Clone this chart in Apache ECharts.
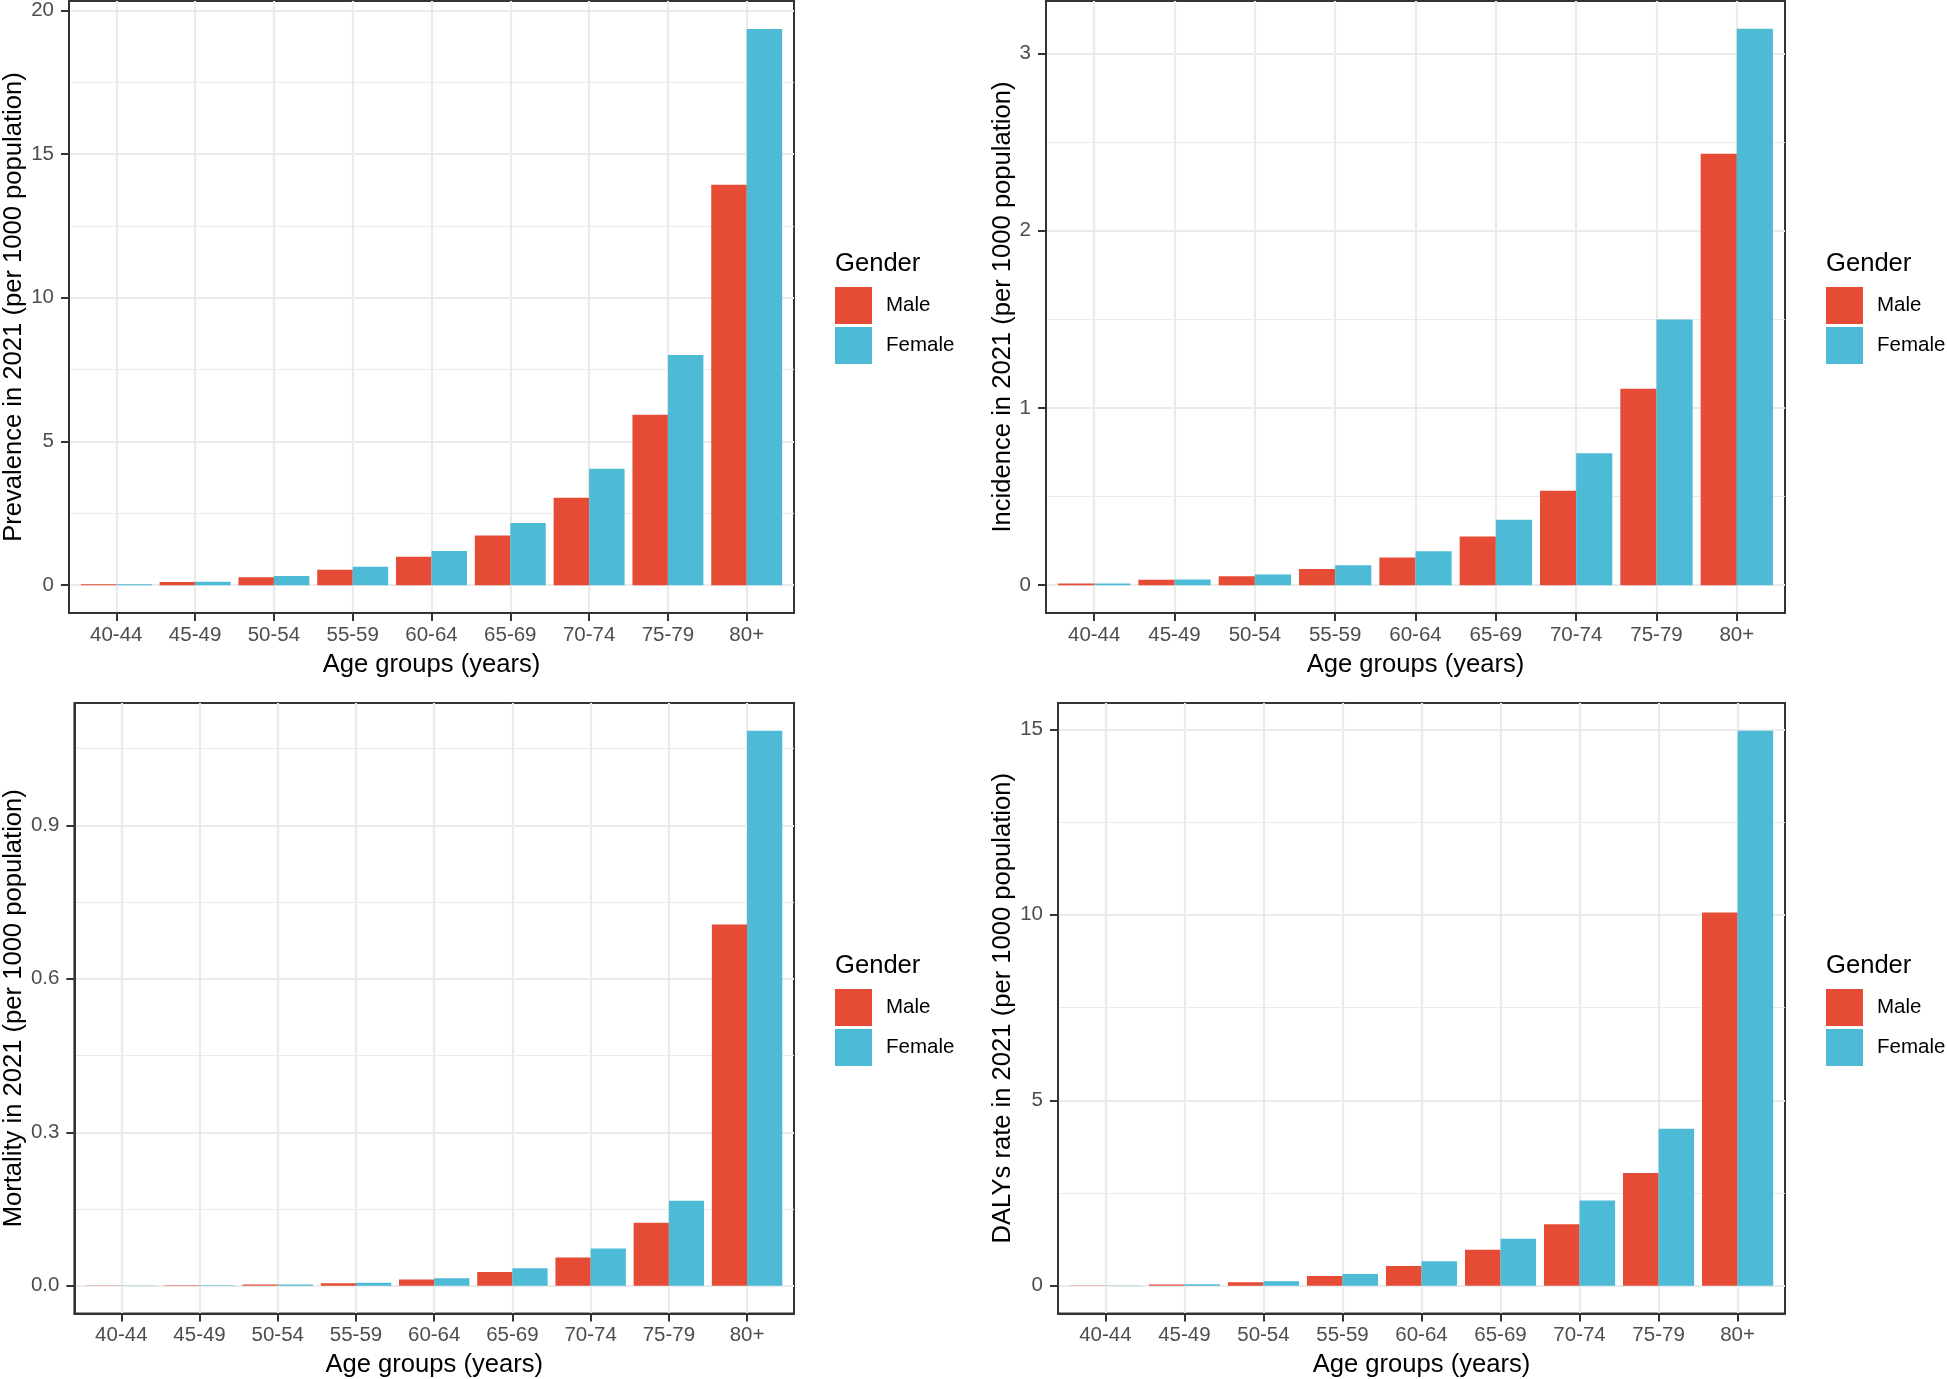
<!DOCTYPE html>
<html>
<head>
<meta charset="utf-8">
<title>Age groups by gender, 2021</title>
<script src="https://cdn.jsdelivr.net/npm/echarts@6/dist/echarts.min.js"></script>
<style>
html, body { margin: 0; padding: 0; background: #ffffff; }
#chart { width: 1947px; height: 1379px; }
</style>
</head>
<body>
<div id="chart"></div>
<script>
// categories
var ageGroups = ['40-44', '45-49', '50-54', '55-59', '60-64', '65-69', '70-74', '75-79', '80+'];
var genders = ['Male', 'Female'];

// values (per 1000 population)
var prevalenceMale   = [0.03, 0.11, 0.28, 0.54, 0.99, 1.73, 3.04, 5.93, 13.94];
var prevalenceFemale = [0.03, 0.12, 0.32, 0.64, 1.19, 2.16, 4.05, 8.01, 19.36];
var incidenceMale    = [0.01, 0.03, 0.05, 0.092, 0.156, 0.275, 0.533, 1.108, 2.435];
var incidenceFemale  = [0.01, 0.032, 0.06, 0.112, 0.191, 0.369, 0.744, 1.50, 3.14];
var mortalityMale    = [0.0004, 0.001, 0.0026, 0.005, 0.012, 0.027, 0.055, 0.123, 0.706];
var mortalityFemale  = [0.0003, 0.001, 0.0026, 0.006, 0.0145, 0.034, 0.073, 0.166, 1.085];
var dalysMale        = [0.01, 0.035, 0.094, 0.26, 0.53, 0.97, 1.66, 3.04, 10.06];
var dalysFemale      = [0.01, 0.04, 0.118, 0.32, 0.66, 1.27, 2.30, 4.23, 14.96];

// tick marks
var prevalenceTicks  = [0, 5, 10, 15, 20];
var prevalenceLabels = ['0', '5', '10', '15', '20'];
var prevalenceMinor  = [2.5, 7.5, 12.5, 17.5];
var incidenceTicks   = [0, 1, 2, 3];
var incidenceLabels  = ['0', '1', '2', '3'];
var incidenceMinor   = [0.5, 1.5, 2.5];
var mortalityTicks   = [0, 0.3, 0.6, 0.9];
var mortalityLabels  = ['0.0', '0.3', '0.6', '0.9'];
var mortalityMinor   = [0.15, 0.45, 0.75, 1.05];
var dalysTicks       = [0, 5, 10, 15];
var dalysLabels      = ['0', '5', '10', '15'];
var dalysMinor       = [2.5, 7.5, 12.5];

var FONT = '"Liberation Sans", Arial, Helvetica, sans-serif';
var COLORS = ['#E64B35', '#4DBBD5'];
var TITLE_SIZE = 25.6;   // 11pt titles
var TEXT_SIZE = 20.5;    // 8.8pt tick and key labels

/**
 * panel layout, in pixels
 */
var panels = [
    { title: 'Prevalence in 2021 (per 1000 population)', male: prevalenceMale, female: prevalenceFemale,
      ticks: prevalenceTicks, labels: prevalenceLabels, minor: prevalenceMinor,
      left: 66, top: 1, width: 728, height: 612, keyX: 835, keyTop: 287, yGap: 42 },
    { title: 'Incidence in 2021 (per 1000 population)', male: incidenceMale, female: incidenceFemale,
      ticks: incidenceTicks, labels: incidenceLabels, minor: incidenceMinor,
      left: 1046, top: 1, width: 739, height: 612, keyX: 1826, keyTop: 287, yGap: 30 },
    { title: 'Mortality in 2021 (per 1000 population)', male: mortalityMale, female: mortalityFemale,
      ticks: mortalityTicks, labels: mortalityLabels, minor: mortalityMinor,
      left: 71, top: 703, width: 723, height: 611, keyX: 835, keyTop: 989, yGap: 47 },
    { title: 'DALYs rate in 2021 (per 1000 population)', male: dalysMale, female: dalysFemale,
      ticks: dalysTicks, labels: dalysLabels, minor: dalysMinor,
      left: 1058, top: 703, width: 727, height: 611, keyX: 1826, keyTop: 989, yGap: 42 }
];

var toPairs = function(values){
    return values.map(function(v, i){ return [i, v]; });
};

var groupIndex = ageGroups.map(function(a, k){ return k; });
var frameLine = { show: true, onZero: false, lineStyle: { color: '#333333', width: 2 } };

/**
 * one ggplot-like panel: grid, axes, two dodged bar series, legend
 */
var addPanel = function(option, p, i){
    var top = Math.max.apply(null, p.male.concat(p.female));
    var yMin = -0.05 * top;     // ggplot expands 5% each side
    var yMax = 1.05 * top;

    option.grid.push({
        left: p.left, top: p.top, width: p.width, height: p.height,
        show: true, borderColor: '#333333', borderWidth: 2, backgroundColor: '#ffffff'
    });

    option.xAxis.push({
        type: 'value', gridIndex: i, min: -0.6, max: ageGroups.length - 0.4, position: 'bottom',
        name: 'Age groups (years)', nameLocation: 'middle', nameGap: 38.5,
        nameTextStyle: { fontSize: TITLE_SIZE, color: '#000000', fontFamily: FONT },
        axisLine: frameLine,
        axisTick: { show: true, inside: false, length: 8, customValues: groupIndex,
            lineStyle: { color: '#333333', width: 2 } },
        axisLabel: { show: true, margin: 11.5, fontSize: TEXT_SIZE, color: '#4D4D4D', fontFamily: FONT,
            customValues: groupIndex,
            formatter: function(v){ return ageGroups[Math.round(v)]; } },
        splitLine: { show: true, lineStyle: { color: '#EBEBEB', width: 2.2 } }
    });

    option.yAxis.push({
        type: 'value', gridIndex: i, min: yMin, max: yMax, position: 'left',
        name: p.title, nameLocation: 'middle', nameRotate: 90, nameGap: p.yGap,
        nameTextStyle: { fontSize: TITLE_SIZE, color: '#000000', fontFamily: FONT },
        axisLine: frameLine,
        axisTick: { show: true, inside: false, length: 8, customValues: p.ticks,
            lineStyle: { color: '#333333', width: 2 } },
        axisLabel: { show: true, margin: 15, fontSize: TEXT_SIZE, color: '#4D4D4D', fontFamily: FONT,
            customValues: p.ticks,
            formatter: function(v){
                var k = p.ticks.indexOf(v);
                return k >= 0 ? p.labels[k] : '';
            } },
        splitLine: { show: true, lineStyle: { color: '#EBEBEB', width: 2.2 } }
    });
    // minor grid lines
    option.yAxis.push({
        type: 'value', gridIndex: i, min: yMin, max: yMax, position: 'left',
        axisLine: { show: false, onZero: false },
        axisTick: { show: false, customValues: p.minor },
        axisLabel: { show: false },
        splitLine: { show: true, lineStyle: { color: '#EBEBEB', width: 1.1 } }
    });

    [p.male, p.female].forEach(function(values, g){
        option.series.push({
            name: genders[g], type: 'bar', xAxisIndex: i, yAxisIndex: 2 * i,
            data: toPairs(values), barGap: '0%', barCategoryGap: '10%',
            itemStyle: { color: COLORS[g] }, z: 3
        });
    });

    option.title.push({
        text: 'Gender', left: p.keyX, top: p.keyTop - 36.5, padding: 0,
        textStyle: { fontSize: TITLE_SIZE, fontWeight: 'normal', color: '#000000', fontFamily: FONT }
    });
    option.legend.push({
        data: genders, orient: 'vertical', left: p.keyX, top: p.keyTop, padding: 0,
        icon: 'rect', itemWidth: 37, itemHeight: 37, itemGap: 3, selectedMode: false,
        textStyle: { fontSize: TEXT_SIZE, color: '#000000', fontFamily: FONT, padding: [5, 0, 0, 9] }
    });
};

var drawCharts = function(){
    var chart = echarts.init(document.getElementById('chart'), null, { renderer: 'canvas' });
    var option = {
        animation: false,
        backgroundColor: '#ffffff',
        color: COLORS,
        textStyle: { fontFamily: FONT },
        title: [], legend: [], grid: [], xAxis: [], yAxis: [], series: []
    };
    panels.forEach(function(p, i){ addPanel(option, p, i); });
    chart.setOption(option);
};

drawCharts();
</script>
</body>
</html>
